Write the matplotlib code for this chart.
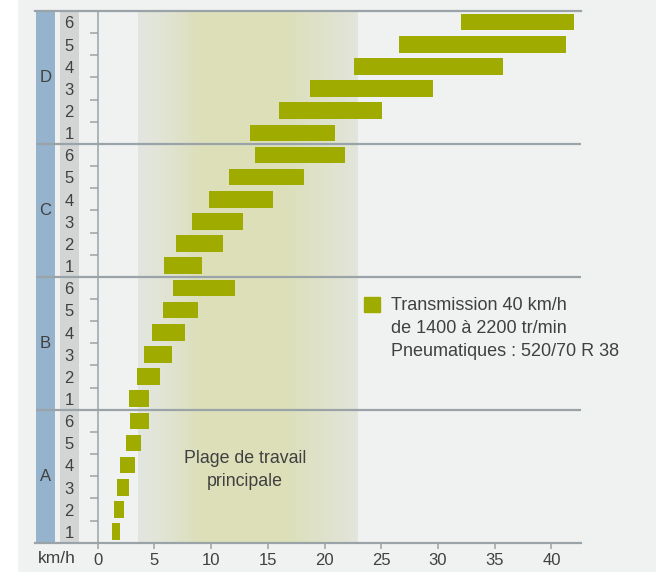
import numpy as np
import matplotlib.pyplot as plt
from matplotlib.patches import Rectangle

# speed ranges (km/h) per gear 1..6, for each range group
groups = ['A', 'B', 'C', 'D']
gears = ['1', '2', '3', '4', '5', '6']
a_min = [1.25, 1.46, 1.69, 1.98, 2.50, 2.87]
a_max = [1.96, 2.34, 2.75, 3.29, 3.81, 4.51]
b_min = [2.78, 3.48, 4.10, 4.81, 5.78, 6.66]
b_max = [4.51, 5.48, 6.54, 7.69, 8.84, 12.1]
c_min = [5.86, 6.93, 8.33, 9.83, 11.6, 13.9]
c_max = [9.19, 11.04, 12.8, 15.5, 18.2, 21.8]
d_min = [13.45, 16.0, 18.7, 22.6, 26.6, 32.05]
d_max = [20.9, 25.1, 29.6, 35.7, 41.3, 42.0]
work_range = [3.6, 22.9]
xticks = [0, 5, 10, 15, 20, 25, 30, 35, 40]

BG = '#f0f2f1'
LINE = '#9aa3a7'
BAR = '#a0ab00'
TXT = '#404040'

plt.rcParams['font.family'] = ['Liberation Sans', 'DejaVu Sans']

W, H = 656, 572
fig = plt.figure(figsize=(W / 100, H / 100), dpi=100, facecolor=BG)
fig.add_artist(Rectangle((0, 0), 17 / W, 1, transform=fig.transFigure,
                         color='white', zorder=0))

ax = fig.add_axes([35.5 / W, 1 - 542.7 / H, (581 - 35.5) / W, (542.7 - 11) / H])
ax.set_facecolor(BG)
ax.set_xlim(-5.47, 42.6)
ax.set_ylim(0, 24)

# working range band with soft gradient
xs = np.linspace(work_range[0], work_range[1], 400)
prof = np.interp(xs, [3.6, 6.0, 9.0, 16.5, 22.9], [0.0, 0.3, 1.0, 1.0, 0.12])
grey = np.array([0.890, 0.902, 0.875])
yel = np.array([0.863, 0.875, 0.725])
rgb = grey[None, :] * (1 - prof[:, None]) + yel[None, :] * prof[:, None]
ax.imshow(rgb[None, :, :], extent=[work_range[0], work_range[1], 0, 24],
          aspect='auto', zorder=0.5, interpolation='bilinear')

# label columns
ax.add_patch(Rectangle((-5.42, 0), 1.67, 24, color='#95b3cd', zorder=1, lw=0))
ax.add_patch(Rectangle((-3.35, 0), 1.69, 24, color='#d3d5d4', zorder=1, lw=0))

mins = [a_min, b_min, c_min, d_min]
maxs = [a_max, b_max, c_max, d_max]
for g, (lo, hi) in enumerate(zip(mins, maxs)):
    ys = [g * 6 + i + 0.5 for i in range(6)]
    ax.barh(ys, [h - l for l, h in zip(lo, hi)], left=lo, height=0.75,
            color=BAR, zorder=3)
    ax.text(-4.59, g * 6 + 3, groups[g], ha='center', va='center',
            fontsize=12, color=TXT, zorder=4)
    for i, lab in enumerate(gears):
        ax.text(-2.5, ys[i] - 0.08, lab, ha='center', va='center',
                fontsize=12, color=TXT, zorder=4)
    ax.hlines([g * 6 + k for k in range(1, 6)], -0.65, 0, color=LINE,
              lw=1.1, zorder=2)

for yb in [6, 12, 18]:
    ax.axhline(yb, color=LINE, lw=1.6, zorder=2)
ax.axvline(0, color=LINE, lw=1.1, zorder=2)

for s in ['left', 'right']:
    ax.spines[s].set_visible(False)
for s in ['top', 'bottom']:
    ax.spines[s].set_color(LINE)
    ax.spines[s].set_linewidth(1.6)

ax.set_yticks([])
ax.set_xticks(xticks)
ax.tick_params(axis='x', direction='out', length=4.5, width=1.1, color=LINE,
               labelcolor=TXT, labelsize=12, pad=3)
ax.text(-3.6, -0.029, 'km/h', transform=ax.get_xaxis_transform(),
        ha='center', va='center', fontsize=12.5, color=TXT)

ax.text(13.0, 3.3, 'Plage de travail\nprincipale', ha='center', va='center',
        fontsize=12.8, color=TXT, linespacing=1.45, zorder=4)

# legend
fig.add_artist(Rectangle((364 / W, 1 - 312 / H), 16 / W, 15 / H,
                         transform=fig.transFigure, color=BAR))
fig.text(391 / W, 1 - 297 / H,
         'Transmission 40 km/h\nde 1400 à 2200 tr/min\nPneumatiques : 520/70 R 38',
         ha='left', va='top', fontsize=13, color=TXT, linespacing=1.45)

fig.savefig('out.png', dpi=100, facecolor=BG)
